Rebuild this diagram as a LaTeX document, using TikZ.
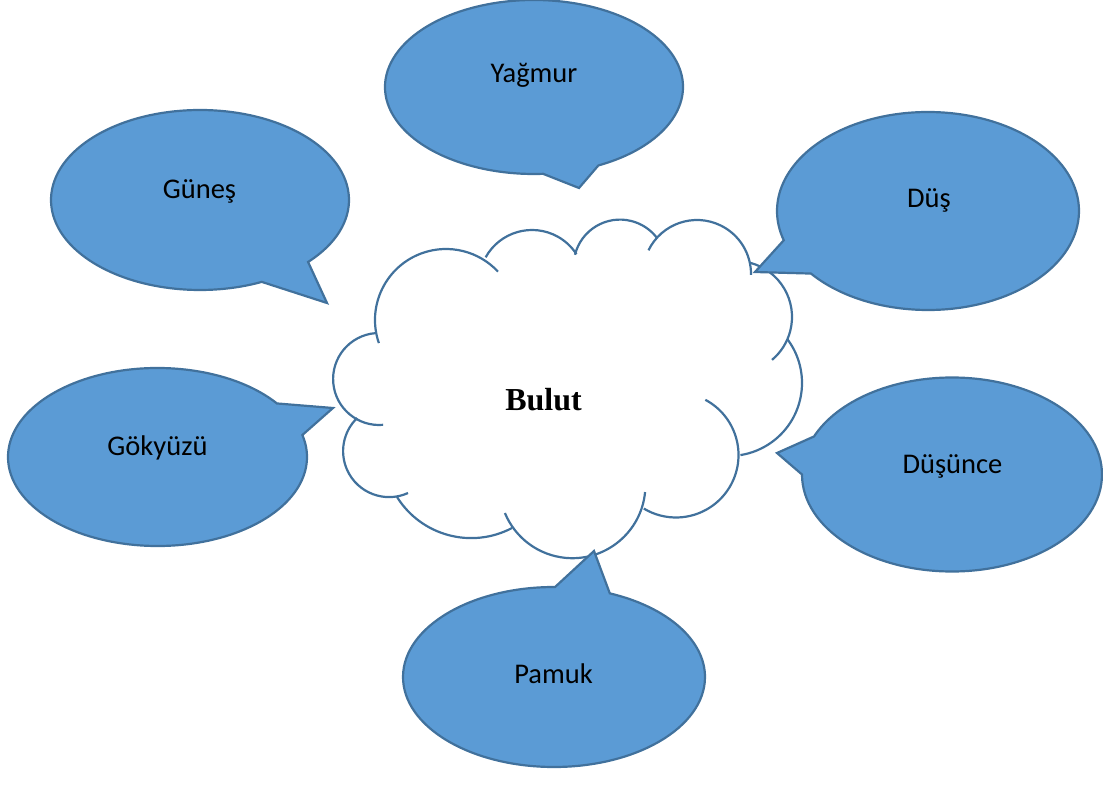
\documentclass[tikz,border=0pt]{standalone}
\usepackage{fontspec}
\setmainfont{Carlito}
\newfontfamily\bulutfont{Liberation Serif}
\definecolor{bubblefill}{RGB}{91,155,213}
\definecolor{bubbleline}{RGB}{65,113,156}
% one lobe of the cloud: centre x, centre y (downwards), radius, start and end angle
\newcommand\cloudlobe[5]{%
  \draw[cloudarc] (#1,-#2) ++(#4:#3) arc[start angle=#4, end angle=#5, radius=#3];}
\begin{document}
\begin{tikzpicture}[x=1pt,y=1pt,
  bubble/.style={fill=bubblefill, draw=bubbleline, line width=2.2pt, line join=miter},
  cloudarc/.style={draw=bubbleline, line width=2.2pt},
  word/.style={font=\fontsize{28.5}{34}\selectfont, anchor=base, inner sep=0pt},
]
\useasboundingbox (0,0) rectangle (1103,-791);

% the cloud
\cloudlobe{446}{320}{71}{199}{43}
\cloudlobe{532}{283}{53}{151}{33}
\cloudlobe{620}{266}{46.4}{166}{38}
\cloudlobe{697}{274}{54}{154}{-1}
\cloudlobe{736}{317}{56}{75.5}{-50}
\cloudlobe{729}{383}{73}{36.6}{-81}
\cloudlobe{676}{455}{62.5}{62}{-121}
\cloudlobe{572.4}{485.2}{73}{-5.4}{-157.6}
\cloudlobe{471.2}{450.6}{87.5}{-62.2}{-148}
\cloudlobe{389.1}{451.1}{46}{-65.7}{-226}
\cloudlobe{379.1}{379}{46}{-85}{-265}
\node[font={\bulutfont\bfseries\fontsize{32}{38}\selectfont}, anchor=base, inner sep=0pt] (bulut) at (543.5,-410) {Bulut};

% speech bubbles
\coordinate (yagmur-c) at (534,-87);
\coordinate (yagmur-tip) at (579,-188);
\draw[bubble] (yagmur-c) ++(-64.4:149 and 87) arc[start angle=-64.4, end angle=273.5, x radius=149, y radius=87] -- (yagmur-tip) -- cycle;
\node[word] (yagmur) at (534,-82.7) {Yağmur};

\coordinate (gunes-c) at (200,-200);
\coordinate (gunes-tip) at (327,-303);
\draw[bubble] (gunes-c) ++(-43.5:149 and 90) arc[start angle=-43.5, end angle=294.5, x radius=149, y radius=90] -- (gunes-tip) -- cycle;
\node[word] (gunes) at (199.5,-199) {Güneş};

\coordinate (gokyuzu-c) at (157.5,-457);
\coordinate (gokyuzu-tip) at (333,-408);
\draw[bubble] (gokyuzu-c) ++(37:149.5 and 89) arc[start angle=37, end angle=374.3, x radius=149.5, y radius=89] -- (gokyuzu-tip) -- cycle;
\node[word] (gokyuzu) at (157.5,-455) {Gökyüzü};

\coordinate (dus-c) at (928,-211);
\coordinate (dus-tip) at (755,-272);
\draw[bubble] (dus-c) ++(219.2:151 and 99) arc[start angle=219.2, end angle=557.2, x radius=151, y radius=99] -- (dus-tip) -- cycle;
\node[word] (dus) at (929,-208) {Düş};

\coordinate (dusunce-c) at (952,-474.5);
\coordinate (dusunce-tip) at (777,-453);
\draw[bubble] (dusunce-c) ++(180:150 and 97) arc[start angle=180, end angle=516.9, x radius=150, y radius=97] -- (dusunce-tip) -- cycle;
\node[word] (dusunce) at (952.5,-473) {Düşünce};

\coordinate (pamuk-c) at (554,-677);
\coordinate (pamuk-tip) at (594,-551);
\draw[bubble] (pamuk-c) ++(89.6:151 and 90) arc[start angle=89.6, end angle=428.3, x radius=151, y radius=90] -- (pamuk-tip) -- cycle;
\node[word] (pamuk) at (553.5,-683) {Pamuk};
\end{tikzpicture}
\end{document}
